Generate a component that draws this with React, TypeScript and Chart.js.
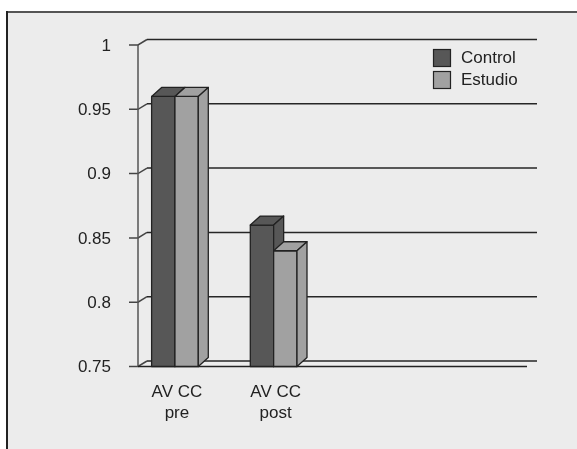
import React, { useEffect, useRef } from "react";
import { Chart, registerables } from "chart.js";

Chart.register(...registerables);

const CATEGORIES: string[][] = [["AV CC", "pre"], ["AV CC", "post"]];
const SERIES_NAMES = ["Control", "Estudio"];
const CONTROL = [0.96, 0.86];
const ESTUDIO = [0.96, 0.84];
const Y_MIN = 0.75;
const Y_MAX = 1;
const Y_STEP = 0.05;

const COLORS = ["#575757", "#a1a1a1"];
const EDGE = "#222222";
const BG = "#ececec";
const FONT = "17px 'Liberation Sans', Arial, Helvetica, sans-serif";
const TEXT = "#222222";

// layout (pixels)
const AXIS_X = 138;
const FLOOR_RIGHT = 527;
const WALL_DX = 9;
const WALL_DY = 5.5;
const BAR_DX = 10;
const BAR_DY = 9;

function fmt(v: number) {
  return String(+v.toFixed(2));
}

const threeD = {
  id: "threeD",
  beforeDraw(chart: any) {
    const ctx = chart.ctx;
    ctx.save();
    ctx.fillStyle = "#ffffff";
    ctx.fillRect(0, 0, chart.width, chart.height);
    ctx.fillStyle = BG;
    ctx.fillRect(7, 12, chart.width - 7, chart.height - 12);
    ctx.lineWidth = 2;
    ctx.strokeStyle = "#555555";
    ctx.beginPath();
    ctx.moveTo(6, 12);
    ctx.lineTo(chart.width, 12);
    ctx.stroke();
    ctx.strokeStyle = "#222222";
    ctx.beginPath();
    ctx.moveTo(7, 11);
    ctx.lineTo(7, chart.height);
    ctx.stroke();
    ctx.restore();
  },
  beforeDatasetsDraw(chart: any) {
    const ctx = chart.ctx;
    const ys = chart.scales.y;
    const xs = chart.scales.x;
    ctx.save();
    const ticks = ys.ticks;
    const yTop = ys.getPixelForValue(Y_MAX);
    const yBot = ys.getPixelForValue(Y_MIN);
    for (const t of ticks) {
      const y = ys.getPixelForValue(t.value);
      ctx.lineWidth = 1.5;
      ctx.strokeStyle = "#444444";
      ctx.beginPath();
      ctx.moveTo(AXIS_X - 9, y);
      ctx.lineTo(AXIS_X, y);
      ctx.lineTo(AXIS_X + WALL_DX, y - WALL_DY);
      ctx.stroke();
      ctx.strokeStyle = "#262626";
      ctx.beginPath();
      ctx.moveTo(AXIS_X + WALL_DX, y - WALL_DY);
      ctx.lineTo(FLOOR_RIGHT + WALL_DX + 1, y - WALL_DY);
      ctx.stroke();
      ctx.fillStyle = TEXT;
      ctx.font = FONT;
      ctx.textAlign = "right";
      ctx.textBaseline = "middle";
      ctx.fillText(fmt(t.value), AXIS_X - 27, y + 1);
    }
    ctx.strokeStyle = "#555555";
    ctx.lineWidth = 1.5;
    ctx.beginPath();
    ctx.moveTo(AXIS_X, yTop);
    ctx.lineTo(AXIS_X, yBot);
    ctx.stroke();
    ctx.strokeStyle = "#222222";
    ctx.beginPath();
    ctx.moveTo(AXIS_X, yBot);
    ctx.lineTo(FLOOR_RIGHT, yBot);
    ctx.stroke();
    ctx.fillStyle = TEXT;
    ctx.font = FONT;
    ctx.textAlign = "center";
    ctx.textBaseline = "middle";
    CATEGORIES.forEach((lines, i) => {
      const x = xs.getPixelForValue(i) + 2;
      lines.forEach((ln, j) => {
        ctx.fillText(ln, x, yBot + 26 + j * 21);
      });
    });
    ctx.restore();
  },
  afterDatasetsDraw(chart: any) {
    const ctx = chart.ctx;
    const ys = chart.scales.y;
    const floorY = ys.getPixelForValue(Y_MIN);
    ctx.save();
    ctx.lineWidth = 1.3;
    ctx.strokeStyle = EDGE;
    ctx.lineJoin = "round";
    const n = CATEGORIES.length;
    for (let i = 0; i < n; i++) {
      chart.data.datasets.forEach((ds: any, d: number) => {
        const el = chart.getDatasetMeta(d).data[i];
        const l = el.x - el.width / 2;
        const r = el.x + el.width / 2;
        const top = el.y;
        const base = floorY;
        ctx.fillStyle = COLORS[d];
        ctx.beginPath();
        ctx.rect(l, top, r - l, base - top);
        ctx.fill();
        ctx.stroke();
        ctx.beginPath();
        ctx.moveTo(l, top);
        ctx.lineTo(l + BAR_DX, top - BAR_DY);
        ctx.lineTo(r + BAR_DX, top - BAR_DY);
        ctx.lineTo(r, top);
        ctx.closePath();
        ctx.fill();
        ctx.stroke();
        ctx.beginPath();
        ctx.moveTo(r, top);
        ctx.lineTo(r + BAR_DX, top - BAR_DY);
        ctx.lineTo(r + BAR_DX, base - BAR_DY);
        ctx.lineTo(r, base);
        ctx.closePath();
        ctx.fill();
        ctx.stroke();
      });
    }
    ctx.restore();
  },
  afterDraw(chart: any) {
    const ctx = chart.ctx;
    ctx.save();
    SERIES_NAMES.forEach((name, d) => {
      const bx = 433.5;
      const by = 49.5 + d * 22;
      ctx.fillStyle = COLORS[d];
      ctx.strokeStyle = EDGE;
      ctx.lineWidth = 1.2;
      ctx.fillRect(bx, by, 17, 17);
      ctx.strokeRect(bx, by, 17, 17);
      ctx.fillStyle = TEXT;
      ctx.font = FONT;
      ctx.textAlign = "left";
      ctx.textBaseline = "middle";
      ctx.fillText(name, 461, by + 9);
    });
    ctx.restore();
  },
};

export default function App() {
  const ref = useRef<HTMLCanvasElement>(null);
  useEffect(() => {
    if (!ref.current) return;
    const chart = new Chart(ref.current, {
      type: "bar",
      data: {
        labels: CATEGORIES.map((c) => c.join(" ")),
        datasets: [
          {
            label: SERIES_NAMES[0],
            data: CONTROL,
            backgroundColor: "rgba(0,0,0,0)",
            borderWidth: 0,
            barPercentage: 1,
            categoryPercentage: 0.473,
          },
          {
            label: SERIES_NAMES[1],
            data: ESTUDIO,
            backgroundColor: "rgba(0,0,0,0)",
            borderWidth: 0,
            barPercentage: 1,
            categoryPercentage: 0.473,
          },
        ],
      },
      options: {
        responsive: false,
        animation: false,
        devicePixelRatio: 1,
        layout: {
          padding: { left: 125.6, right: 577 - 323, top: 45, bottom: 449 - 366.5 },
        },
        plugins: {
          legend: { display: false },
          tooltip: { enabled: false },
        },
        scales: {
          x: { display: false },
          y: {
            display: false,
            min: Y_MIN,
            max: Y_MAX,
            ticks: { stepSize: Y_STEP },
          },
        },
      },
      plugins: [threeD],
    });
    return () => chart.destroy();
  }, []);
  return (
    <div style={{ position: "absolute", left: 0, top: 0, width: 577, height: 449 }}>
      <canvas ref={ref} width={577} height={449} style={{ display: "block" }} />
    </div>
  );
}
